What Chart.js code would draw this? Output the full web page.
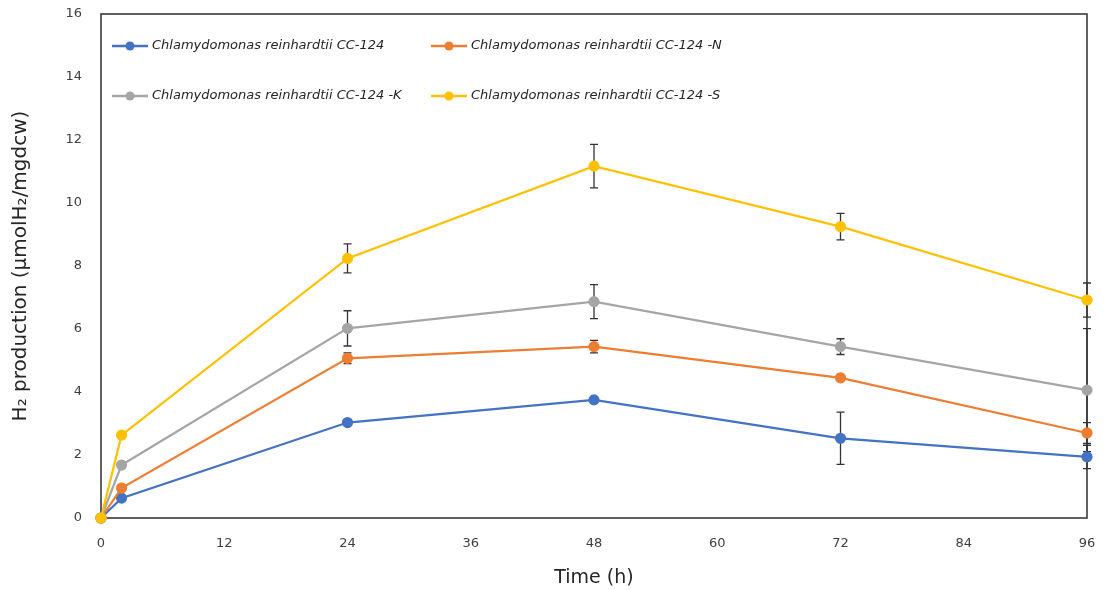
<!DOCTYPE html>
<html>
<head>
<meta charset="utf-8">
<script src="https://cdn.jsdelivr.net/npm/chart.js@4/dist/chart.umd.min.js"></script>
<style>
  html, body { margin: 0; padding: 0; background: #ffffff; }
  #wrap { width: 1105px; height: 590px; }
</style>
</head>
<body>
<div id="wrap"><canvas id="h2chart" width="1105" height="590"></canvas></div>
<script>
// Sampling times (h)
const timeLabels = [0, 2, 24, 48, 72, 96];
const xTicks = [0, 12, 24, 36, 48, 60, 72, 84, 96];

// Strain / treatment names
const seriesNames = [
  'Chlamydomonas reinhardtii CC-124',
  'Chlamydomonas reinhardtii CC-124 -N',
  'Chlamydomonas reinhardtii CC-124 -K',
  'Chlamydomonas reinhardtii CC-124 -S'
];

// Mean H2 production (µmol H2 / mg dcw)
const cc124  = [0, 0.63, 3.03, 3.75, 2.53, 1.94];
const cc124N = [0, 0.95, 5.07, 5.44, 4.45, 2.70];
const cc124K = [0, 1.68, 6.02, 6.87, 5.44, 4.06];
const cc124S = [0, 2.63, 8.24, 11.17, 9.25, 6.92];

// Standard deviations
const cc124Err  = [0, 0, 0, 0.10, 0.83, 0.37];
const cc124NErr = [0, 0, 0.17, 0.20, 0, 0.33];
const cc124KErr = [0, 0, 0.56, 0.54, 0.25, 1.95];
const cc124SErr = [0, 0, 0.46, 0.69, 0.42, 0.54];

const seriesColors = ['#4472C4', '#ED7D31', '#A5A5A5', '#FFC000'];
const seriesValues = [cc124, cc124N, cc124K, cc124S];
const seriesErrors = [cc124Err, cc124NErr, cc124KErr, cc124SErr];

const FONT = "'DejaVu Sans', sans-serif";

function toPoints(vals) {
  return vals.map((v, i) => ({ x: timeLabels[i], y: v }));
}

const datasets = seriesValues.map((vals, i) => ({
  label: seriesNames[i],
  data: toPoints(vals),
  errors: seriesErrors[i],
  borderColor: seriesColors[i],
  backgroundColor: seriesColors[i],
  pointBackgroundColor: seriesColors[i],
  pointBorderColor: seriesColors[i],
  borderWidth: 2.2,
  pointRadius: 4.5,
  pointHoverRadius: 4.5,
  tension: 0,
  clip: false,
  // later series are painted over earlier ones
  order: seriesValues.length - 1 - i
}));

// Plot frame drawn underneath the series
const frameBox = {
  id: 'frameBox',
  beforeDatasetsDraw(chart) {
    const { ctx, chartArea: a } = chart;
    ctx.save();
    ctx.strokeStyle = '#3a3a3a';
    ctx.lineWidth = 1.6;
    ctx.strokeRect(a.left, a.top, a.right - a.left, a.bottom - a.top);
    ctx.restore();
  }
};

// Vertical error bars with caps
const errorBars = {
  id: 'errorBars',
  beforeDatasetsDraw(chart) {
    const { ctx } = chart;
    const xs = chart.scales.x, ys = chart.scales.y;
    ctx.save();
    ctx.strokeStyle = '#333333';
    ctx.lineWidth = 1.3;
    chart.data.datasets.forEach(ds => {
      ds.data.forEach((p, i) => {
        const e = ds.errors[i];
        if (!e) return;
        const px = xs.getPixelForValue(p.x);
        const yTop = ys.getPixelForValue(p.y + e);
        const yBot = ys.getPixelForValue(p.y - e);
        const cap = 4;
        ctx.beginPath();
        ctx.moveTo(px, yTop); ctx.lineTo(px, yBot);
        ctx.moveTo(px - cap, yTop); ctx.lineTo(px + cap, yTop);
        ctx.moveTo(px - cap, yBot); ctx.lineTo(px + cap, yBot);
        ctx.stroke();
      });
    });
    ctx.restore();
  }
};

// Two-column legend inside the plot area
const innerLegend = {
  id: 'innerLegend',
  afterDatasetsDraw(chart) {
    const { ctx, chartArea: a } = chart;
    const cols = [a.left + 11, a.left + 330];
    const rows = [a.top + 32, a.top + 82];
    ctx.save();
    chart.data.datasets.forEach((ds, i) => {
      const x = cols[i % 2];
      const y = rows[Math.floor(i / 2)];
      ctx.strokeStyle = ds.borderColor;
      ctx.lineWidth = 2.5;
      ctx.beginPath();
      ctx.moveTo(x, y); ctx.lineTo(x + 36, y);
      ctx.stroke();
      ctx.fillStyle = ds.borderColor;
      ctx.beginPath();
      ctx.arc(x + 18, y, 4.5, 0, Math.PI * 2);
      ctx.fill();
      ctx.fillStyle = '#262626';
      ctx.font = "italic 13px " + FONT;
      ctx.textAlign = 'left';
      ctx.textBaseline = 'middle';
      ctx.fillText(ds.label, x + 40, y);
    });
    ctx.restore();
  }
};

function noScalePadding(scale) {
  scale.paddingTop = 0;
  scale.paddingBottom = 0;
  scale.paddingLeft = 0;
  scale.paddingRight = 0;
}

new Chart(document.getElementById('h2chart'), {
  type: 'line',
  data: { datasets },
  plugins: [frameBox, errorBars, innerLegend],
  options: {
    responsive: false,
    animation: false,
    events: [],
    layout: { autoPadding: false, padding: { top: 14, right: 18, left: 0, bottom: 0 } },
    plugins: {
      legend: { display: false },
      tooltip: { enabled: false }
    },
    scales: {
      x: {
        type: 'linear',
        min: 0,
        max: 96,
        afterBuildTicks(scale) {
          scale.ticks = xTicks.map(v => ({ value: v }));
        },
        afterFit(scale) { scale.height = 72; noScalePadding(scale); },
        grid: { display: false, drawTicks: false },
        border: { display: false },
        ticks: {
          padding: 18,
          color: '#404040',
          font: { family: FONT, size: 13, lineHeight: 1.2 },
          maxRotation: 0,
          autoSkip: false
        },
        title: {
          display: true,
          text: 'Time (h)',
          color: '#262626',
          font: { family: FONT, size: 19, lineHeight: 1.2 },
          padding: { top: 0, bottom: 1 }
        }
      },
      y: {
        min: 0,
        max: 16,
        afterFit(scale) { scale.width = 101; noScalePadding(scale); },
        grid: { display: false, drawTicks: false },
        border: { display: false },
        ticks: {
          stepSize: 2,
          padding: 19,
          color: '#404040',
          font: { family: FONT, size: 13, lineHeight: 1.2 }
        },
        title: {
          display: true,
          text: 'H₂ production (µmolH₂/mgdcw)',
          color: '#262626',
          font: { family: FONT, size: 20, lineHeight: 1.2 },
          padding: { top: 9, bottom: 0 }
        }
      }
    }
  }
});
</script>
</body>
</html>
